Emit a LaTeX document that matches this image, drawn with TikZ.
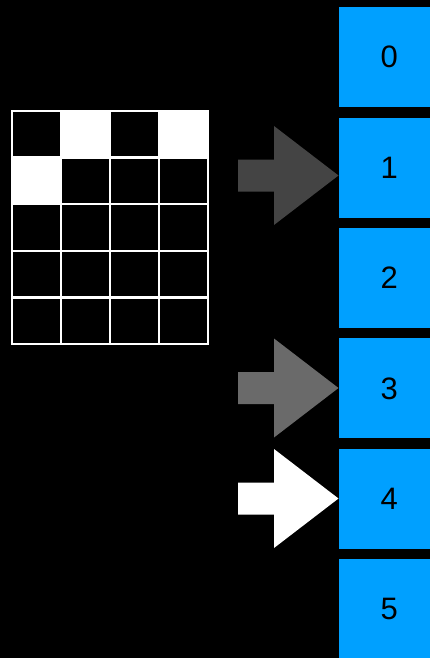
\documentclass[tikz,border=0pt]{standalone}
\usepackage{fontspec}
\setmainfont{Liberation Sans}
\definecolor{boxblue}{RGB}{0,160,255}
\definecolor{darkarrow}{RGB}{68,68,68}
\definecolor{midarrow}{RGB}{106,106,106}
\tikzset{
  slot/.style={fill=boxblue, draw=none, minimum width=100pt, minimum height=100pt, inner sep=0pt,
    anchor=north west, font=\fontsize{31}{31}\selectfont, text=black},
  gridline/.style={draw=white, line width=2.4pt},
}
\newcommand{\blockarrow}[3]{% colour, centre y, name
  \fill[#1] (238,#2-16) -- (274,#2-16) -- (274,#2-49.5) -- (338.5,#2) -- (274,#2+49.5) -- (274,#2+16) -- (238,#2+16) -- cycle;
  \coordinate (#3) at (338.5,#2);
}
\begin{document}
\begin{tikzpicture}[x=1pt,y=-1pt]
\fill[black] (0,0) rectangle (430,658);
\useasboundingbox (0,0) rectangle (430,658);
\begin{scope}
\clip (0,0) rectangle (430,658);
% slots
\node[slot] (s0) at (339,7) {0};
\node[slot] (s1) at (339,117.4) {1};
\node[slot] (s2) at (339,227.8) {2};
\node[slot] (s3) at (339,338.2) {3};
\node[slot] (s4) at (339,448.6) {4};
\node[slot] (s5) at (339,559) {5};
\end{scope}
% grid white cells
\fill[white] (61,111) rectangle (110,157.6);
\fill[white] (159,111) rectangle (208,157.6);
\fill[white] (12,157.6) rectangle (61,204.2);
% grid lines
\foreach \i in {0,...,4} {
  \draw[gridline] (12+49*\i,111) -- (12+49*\i,344);
}
\foreach \j in {0,...,5} {
  \draw[gridline] (12,111+46.6*\j) -- (208,111+46.6*\j);
}
\draw[white, line width=2.4pt] (12,111) rectangle (208,344);
% arrows
\blockarrow{darkarrow}{175.5}{a1}
\blockarrow{midarrow}{388}{a3}
\blockarrow{white}{498.5}{a4}
\end{tikzpicture}
\end{document}
